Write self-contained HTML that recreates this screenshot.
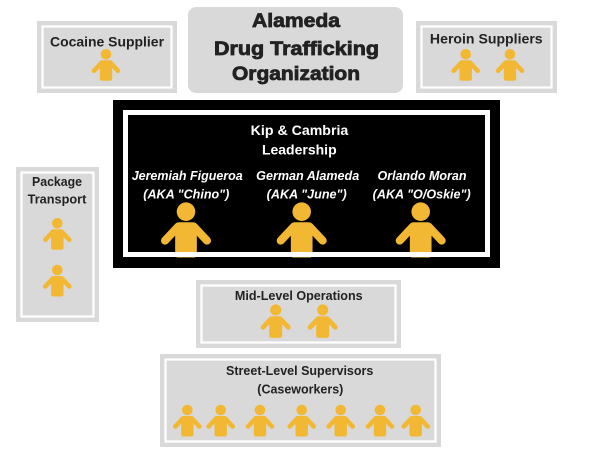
<!DOCTYPE html>
<html><head><meta charset="utf-8"><style>
html,body{margin:0;padding:0;background:#fff;width:600px;height:450px;overflow:hidden}
svg{display:block}
text{font-family:"Liberation Sans",Arial,sans-serif;font-weight:bold}
</style></head><body>
<svg width="600" height="450" viewBox="0 0 600 450" xmlns="http://www.w3.org/2000/svg">
<defs>
<g id="p" fill="#f3b833">
<circle cx="0" cy="0" r="5.3"/>
<rect x="-6.2" y="6" width="12.4" height="20.5" rx="2.2"/>
<line x1="-4.5" y1="8.5" x2="-12" y2="16.5" stroke="#f3b833" stroke-width="4.6" stroke-linecap="round"/>
<line x1="4.5" y1="8.5" x2="12" y2="16.5" stroke="#f3b833" stroke-width="4.6" stroke-linecap="round"/>
</g>
</defs>
<rect width="600" height="450" fill="#fff"/>

<!-- Title -->
<rect x="188" y="7" width="215" height="86" rx="8" fill="#d9d9d9"/>
<g fill="#222" stroke="#222" stroke-width="0.8" text-anchor="middle" font-size="19.5">
<text x="296" y="27" textLength="88" lengthAdjust="spacingAndGlyphs">Alameda</text>
<text x="296.5" y="55" textLength="165" lengthAdjust="spacingAndGlyphs">Drug Trafficking</text>
<text x="296" y="80" textLength="128" lengthAdjust="spacingAndGlyphs">Organization</text>
</g>

<!-- Cocaine -->
<rect x="37" y="21" width="140" height="72" fill="#d9d9d9"/>
<rect x="42.5" y="26.5" width="129" height="61" fill="none" stroke="#fff" stroke-width="2.2"/>
<text x="107" y="46.7" font-size="14" fill="#222" text-anchor="middle" textLength="114" lengthAdjust="spacingAndGlyphs">Cocaine Supplier</text>
<use href="#p" x="106" y="54.3"/>

<!-- Heroin -->
<rect x="416" y="21" width="141" height="72" fill="#d9d9d9"/>
<rect x="421.5" y="26.5" width="130" height="61" fill="none" stroke="#fff" stroke-width="2.2"/>
<text x="486.3" y="43.3" font-size="14" fill="#222" text-anchor="middle" textLength="112.7" lengthAdjust="spacingAndGlyphs">Heroin Suppliers</text>
<use href="#p" x="465.7" y="54.3"/>
<use href="#p" x="510" y="54.3"/>

<!-- Leadership -->
<rect x="113" y="100" width="387" height="168" fill="#000"/>
<g transform="translate(186,211.7) scale(1.75)"><use href="#p"/></g>
<g transform="translate(301.7,211.7) scale(1.75)"><use href="#p"/></g>
<g transform="translate(420.7,211.7) scale(1.75)"><use href="#p"/></g>
<rect x="113" y="257.5" width="387" height="10.5" fill="#000"/>
<rect x="125.5" y="112.5" width="362" height="142" fill="none" stroke="#fff" stroke-width="5"/>
<g fill="#fff" text-anchor="middle">
<text x="299.5" y="135" font-size="14" textLength="97.6" lengthAdjust="spacingAndGlyphs">Kip &amp; Cambria</text>
<text x="299.3" y="154.3" font-size="14">Leadership</text>
<g font-size="12.5" font-style="italic">
<text x="187.2" y="180" textLength="111" lengthAdjust="spacingAndGlyphs">Jeremiah Figueroa</text>
<text x="186.3" y="198.3" textLength="86" lengthAdjust="spacingAndGlyphs">(AKA "Chino")</text>
<text x="307.7" y="180" textLength="103" lengthAdjust="spacingAndGlyphs">German Alameda</text>
<text x="306.7" y="198.3" textLength="80" lengthAdjust="spacingAndGlyphs">(AKA "June")</text>
<text x="422" y="180" textLength="89" lengthAdjust="spacingAndGlyphs">Orlando Moran</text>
<text x="421.7" y="198.3" textLength="98" lengthAdjust="spacingAndGlyphs">(AKA "O/Oskie")</text>
</g>
</g>

<!-- Package Transport -->
<rect x="16" y="167" width="83" height="155" fill="#d9d9d9"/>
<rect x="21.5" y="172.5" width="72" height="144" fill="none" stroke="#fff" stroke-width="2.2"/>
<g fill="#222" text-anchor="middle" font-size="12.5">
<text x="57" y="186" textLength="50" lengthAdjust="spacingAndGlyphs">Package</text>
<text x="57" y="203.3" textLength="58.7" lengthAdjust="spacingAndGlyphs">Transport</text>
</g>
<use href="#p" x="57.3" y="223.3"/>
<use href="#p" x="57.3" y="270"/>

<!-- Mid-Level -->
<rect x="196" y="280" width="205" height="68" fill="#d9d9d9"/>
<rect x="201.5" y="285.5" width="194" height="57" fill="none" stroke="#fff" stroke-width="2.2"/>
<text x="298.8" y="300" font-size="12.5" fill="#222" text-anchor="middle" textLength="127.7" lengthAdjust="spacingAndGlyphs">Mid-Level Operations</text>
<g transform="translate(275.7,310) scale(1.05)"><use href="#p"/></g>
<g transform="translate(322.7,310) scale(1.05)"><use href="#p"/></g>

<!-- Street-Level -->
<rect x="160" y="354" width="281" height="93" fill="#d9d9d9"/>
<rect x="165.5" y="359.5" width="270" height="82" fill="none" stroke="#fff" stroke-width="2.2"/>
<g fill="#222" text-anchor="middle" font-size="12.5">
<text x="299.7" y="375" textLength="147.3" lengthAdjust="spacingAndGlyphs">Street-Level Supervisors</text>
<text x="300.3" y="393.3" textLength="86" lengthAdjust="spacingAndGlyphs">(Caseworkers)</text>
</g>
<use href="#p" x="187.3" y="410"/>
<use href="#p" x="220.7" y="410"/>
<use href="#p" x="260" y="410"/>
<use href="#p" x="301.7" y="410"/>
<use href="#p" x="340.7" y="410"/>
<use href="#p" x="380" y="410"/>
<use href="#p" x="415.7" y="410"/>
</svg>
</body></html>
